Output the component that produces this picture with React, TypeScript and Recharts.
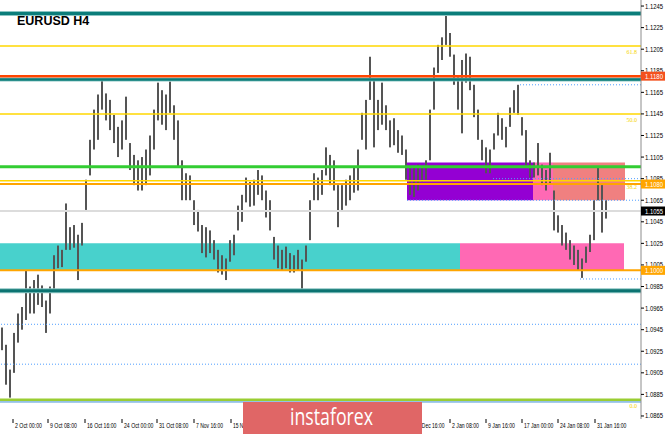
import React from 'react';
import {
  ComposedChart,
  Bar,
  XAxis,
  YAxis,
  ReferenceLine,
  ReferenceArea,
} from 'recharts';

// H4 bars (high / low per bar)
const highs = [
  1.0947, 1.0931, 1.0908, 1.0942, 1.0960, 1.0966, 1.1000, 1.0985, 1.0991, 1.0996,
  1.0986, 1.0972, 1.0985, 1.1014, 1.1023, 1.1019, 1.1062, 1.1040, 1.1042, 1.1033,
  1.1044, 1.1084, 1.1121, 1.1149, 1.1163, 1.1178, 1.1164, 1.1158, 1.1144, 1.1133,
  1.1139, 1.1161, 1.1118, 1.1107, 1.1102, 1.1105, 1.1112, 1.1125, 1.1149, 1.1174,
  1.1167, 1.1163, 1.1175, 1.1153, 1.1139, 1.1102, 1.1090, 1.1088, 1.1065, 1.1056,
  1.1042, 1.1040, 1.1037, 1.1028, 1.1019, 1.1014, 1.1011, 1.1028, 1.1033, 1.1060,
  1.1070, 1.1086, 1.1082, 1.1084, 1.1093, 1.1088, 1.1074, 1.1065, 1.1031, 1.1023,
  1.1019, 1.1022, 1.1016, 1.1014, 1.1019, 1.1010, 1.1023, 1.1065, 1.1090, 1.1086,
  1.1093, 1.1114, 1.1107, 1.1102, 1.1079, 1.1079, 1.1084, 1.1088, 1.1096, 1.1112,
  1.1146, 1.1158, 1.1198, 1.1176, 1.1158, 1.1174, 1.1153, 1.1139, 1.1141, 1.1130,
  1.1125, 1.1112, 1.1096, 1.1095, 1.1098, 1.1096, 1.1102, 1.1149, 1.1188, 1.1209,
  1.1216, 1.1238, 1.1220, 1.1200, 1.1179, 1.1195, 1.1201, 1.1198, 1.1172, 1.1149,
  1.1121, 1.1114, 1.1112, 1.1127, 1.1146, 1.1141, 1.1133, 1.1151, 1.1167, 1.1172,
  1.1142, 1.1130, 1.1102, 1.1100, 1.1118, 1.1098, 1.1093, 1.1109, 1.1074, 1.1051,
  1.1042, 1.1035, 1.1028, 1.1023, 1.1019, 1.1011, 1.1022, 1.1033, 1.1065, 1.1096,
  1.1079, 1.1065,
];

const lows = [
  1.0926, 1.0894, 1.0882, 1.0905, 1.0933, 1.0945, 1.0954, 1.0960, 1.0960, 1.0968,
  1.0966, 1.0942, 1.0960, 1.0982, 1.1002, 1.1003, 1.1019, 1.1019, 1.1021, 1.0991,
  1.1023, 1.1056, 1.1088, 1.1112, 1.1121, 1.1149, 1.1139, 1.1130, 1.1118, 1.1105,
  1.1112, 1.1121, 1.1093, 1.1079, 1.1074, 1.1074, 1.1079, 1.1088, 1.1112, 1.1139,
  1.1135, 1.1130, 1.1146, 1.1121, 1.1096, 1.1065, 1.1065, 1.1065, 1.1042, 1.1036,
  1.1016, 1.1012, 1.1016, 1.1010, 1.0998, 1.0996, 1.0991, 1.1008, 1.1014, 1.1037,
  1.1045, 1.1063, 1.1059, 1.1060, 1.1070, 1.1065, 1.1049, 1.1037, 1.1010, 1.1002,
  1.1000, 1.1002, 1.0998, 1.0998, 1.1000, 1.0982, 1.1008, 1.1028, 1.1065, 1.1065,
  1.1070, 1.1088, 1.1079, 1.1074, 1.1040, 1.1056, 1.1060, 1.1065, 1.1072, 1.1074,
  1.1121, 1.1112, 1.1158, 1.1114, 1.1130, 1.1135, 1.1130, 1.1114, 1.1116, 1.1109,
  1.1107, 1.1084, 1.1070, 1.1068, 1.1074, 1.1082, 1.1084, 1.1102, 1.1149, 1.1183,
  1.1195, 1.1209, 1.1198, 1.1172, 1.1149, 1.1127, 1.1174, 1.1167, 1.1142, 1.1121,
  1.1102, 1.1090, 1.1090, 1.1112, 1.1125, 1.1121, 1.1114, 1.1133, 1.1146, 1.1144,
  1.1125, 1.1096, 1.1086, 1.1086, 1.1088, 1.1079, 1.1074, 1.1081, 1.1037, 1.1035,
  1.1023, 1.1019, 1.1010, 1.1005, 1.1000, 1.0993, 1.1007, 1.1017, 1.1028, 1.1065,
  1.1035, 1.1048,
];

// time axis labels (position in bar units)
const timeTickPos = [2.75, 11.5, 20.75, 30, 38.75, 48, 57.25, 66.25, 75.25, 84.5, 93.5, 102.75, 112, 121, 130, 139, 148.25];
const timeTickText = [
  '2 Oct 00:00', '9 Oct 08:00', '16 Oct 16:00', '24 Oct 00:00', '31 Oct 08:00', '7 Nov 16:00',
  '15 Nov 00:00', '22 Nov 08:00', '29 Nov 16:00', '9 Dec 00:00', '16 Dec 08:00', '23 Dec 16:00',
  '2 Jan 08:00', '9 Jan 16:00', '17 Jan 00:00', '24 Jan 08:00', '31 Jan 16:00',
];

const priceTicks = [
  1.1245, 1.1225, 1.1205, 1.1185, 1.1165, 1.1145, 1.1125, 1.1105, 1.1085, 1.1065,
  1.1045, 1.1025, 1.1005, 1.0985, 1.0965, 1.0945, 1.0925, 1.0905, 1.0885, 1.0865,
];
const markerPrices = [1.118, 1.108, 1.1055, 1.1];

// levels
const fibLevels = [1.1208, 1.1145, 1.1083];
const fibText = ['61.8', '50.0', '38.2'];
const zeroLevel = 1.088;
const dottedFull = [1.095, 1.0913];
const dottedStart = [129.5, 122.75, 101.25, 144.5];
const dottedLevel = [1.1172, 1.1085, 1.1065, 1.0992];

const data = highs.map((h, i) => ({ i, range: [lows[i], h] }));

const markerBg = ['#f4511e', '#ffa500', '#000000', '#ffa500'];
const FONT = '"Liberation Sans", Arial, sans-serif';

const Wick = (props: any) => {
  const { x, y, width, height } = props;
  if (x == null || y == null) return null;
  return <rect x={x + width / 2 - 1} y={y} width={2} height={Math.max(height, 1)} fill="#555" />;
};

const PriceTick = (props: any) => {
  const { x, y, payload } = props;
  const v = payload.value;
  const mi = markerPrices.indexOf(v);
  const label = v.toFixed(4);
  const txt = (fill: string) => (
    <text x={x} y={y + 2.5} fontSize={7} fill={fill} fontFamily={FONT} textLength={18} lengthAdjust="spacingAndGlyphs">
      {label}
    </text>
  );
  if (mi >= 0) {
    return (
      <g>
        <rect x={x - 4} y={y - 4.5} width={24} height={9} fill={markerBg[mi]} />
        {txt('#fff')}
      </g>
    );
  }
  return (
    <g>
      <line x1={x - 4} x2={x - 1} y1={y} y2={y} stroke="#000" />
      {txt('#000')}
    </g>
  );
};

const TimeTick = (props: any) => {
  const { x, y, payload } = props;
  const k = timeTickPos.indexOf(payload.value);
  const label = timeTickText[k] || '';
  return (
    <g>
      <line x1={x} x2={x} y1={y - 3} y2={y + 1} stroke="#000" />
      <text
        x={x + 2}
        y={y + 6}
        fontSize={7}
        fill="#000"
        fontFamily={FONT}
        textLength={label.length * 2.45}
        lengthAdjust="spacingAndGlyphs"
      >
        {label}
      </text>
    </g>
  );
};

const App: React.FC = () => {
  return (
    <div style={{ position: 'absolute', left: 0, top: 0, width: 665, height: 434, background: '#fff', overflow: 'hidden' }}>
      <ComposedChart width={665} height={434} data={data} margin={{ top: 0, right: 0, bottom: 0, left: 0 }}>
        <XAxis
          type="number"
          dataKey="i"
          domain={[-0.5, 159.75]}
          ticks={timeTickPos}
          interval={0}
          height={15}
          axisLine={false}
          tickLine={false}
          tickSize={3}
          tickMargin={0}
          tick={<TimeTick />}
          allowDataOverflow
        />
        <YAxis
          orientation="right"
          type="number"
          domain={[1.08622, 1.12506]}
          ticks={[...priceTicks, ...markerPrices]}
          interval={0}
          width={24}
          axisLine={{ stroke: '#8c8c8c' }}
          tickLine={false}
          tickSize={3}
          tickMargin={1}
          tick={<PriceTick />}
          allowDataOverflow
        />

        <ReferenceArea x1={-0.5} x2={114.5} y1={1.1} y2={1.1025} fill="#48d1cc" fillOpacity={1} stroke="none" />
        <ReferenceArea x1={114.5} x2={155.5} y1={1.1} y2={1.1025} fill="#ff69b4" fillOpacity={1} stroke="none" />
        <ReferenceArea x1={101.25} x2={132.75} y1={1.1065} y2={1.11} fill="#9400d3" fillOpacity={1} stroke="none" />
        <ReferenceArea x1={132.75} x2={137.75} y1={1.1065} y2={1.11} fill="#ff69b4" fillOpacity={1} stroke="none" />
        <ReferenceArea x1={137.75} x2={155.75} y1={1.1065} y2={1.11} fill="#f08080" fillOpacity={1} stroke="none" />

        <ReferenceLine y={1.1055} stroke="#dcdcdc" strokeWidth={2} />
        {dottedFull.map((p) => (
          <ReferenceLine key={p} y={p} stroke="#4f9fff" strokeDasharray="1 2" strokeWidth={1} />
        ))}
        {dottedLevel.map((p, k) => (
          <ReferenceLine
            key={'d' + p}
            segment={[{ x: dottedStart[k], y: p }, { x: 159.75, y: p }]}
            stroke="#4f9fff"
            strokeDasharray="1 2"
            strokeWidth={1}
          />
        ))}

        <Bar dataKey="range" barSize={2} shape={<Wick />} isAnimationActive={false} />

        <ReferenceLine y={1.1238} stroke="#8cc5c3" strokeWidth={5} />
        <ReferenceLine y={1.1238} stroke="#0b7d7a" strokeWidth={3} />
        <ReferenceLine y={1.1177} stroke="#8cc5c3" strokeWidth={4} />
        <ReferenceLine y={1.1177} stroke="#0b7d7a" strokeWidth={2.5} />
        <ReferenceLine y={1.118} stroke="#ff4500" strokeWidth={2.5} />
        <ReferenceLine y={1.0981} stroke="#8cc5c3" strokeWidth={5} />
        <ReferenceLine y={1.0981} stroke="#0b7371" strokeWidth={3} />
        <ReferenceLine y={1.1096} stroke="#32cd32" strokeWidth={3} />
        {fibLevels.map((p, k) => (
          <ReferenceLine
            key={'f' + p}
            y={p}
            stroke="#ffd700"
            strokeWidth={1.5}
            label={{ value: fibText[k], position: 'insideTopRight', fill: '#f5d400', fontSize: 6, offset: 4 }}
          />
        ))}
        <ReferenceLine y={1.108} stroke="#ffa500" strokeWidth={2} />
        <ReferenceLine y={1.1} stroke="#ffa500" strokeWidth={2} />
        <ReferenceLine
          y={zeroLevel}
          stroke="#9acd32"
          strokeWidth={2.5}
          label={{ value: '0.0', position: 'insideTopRight', fill: '#f5d400', fontSize: 6, offset: 4 }}
        />
        <ReferenceLine y={1.0878} stroke="#3b8fd0" strokeWidth={1} />
      </ComposedChart>

      <div
        style={{
          position: 'absolute',
          left: 17,
          top: 14,
          fontFamily: '"Liberation Sans", Arial, sans-serif',
          fontWeight: 'bold',
          fontSize: 12.5,
          color: '#000',
          lineHeight: '14px',
        }}
      >
        EURUSD H4
      </div>

      <svg style={{ position: 'absolute', left: 243, top: 402 }} width={179} height={32}>
        <rect x={0} y={0} width={179} height={32} fill="#e06666" />
        <text x={47} y={23} fontSize={23} fill="#fff" fontFamily='"Open Sans", sans-serif' textLength={83} lengthAdjust="spacingAndGlyphs">
          instaforex
        </text>
      </svg>
    </div>
  );
};

export default App;
